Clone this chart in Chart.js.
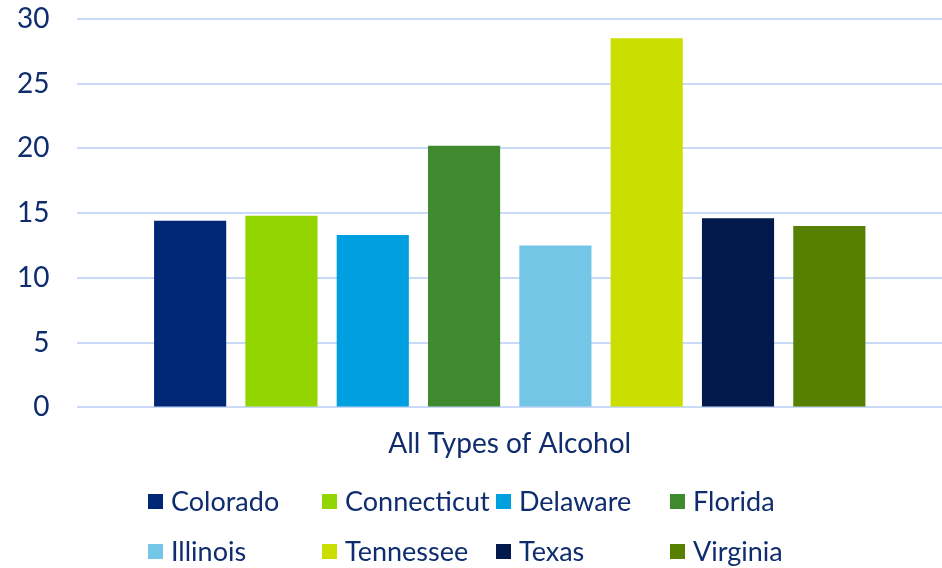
<!DOCTYPE html>
<html>
<head>
<meta charset="utf-8">
<script src="https://cdn.jsdelivr.net/npm/chart.js@4"></script>
<style>
  html, body { margin: 0; padding: 0; background: #fff; }
  #wrap { width: 942px; height: 568px; }
</style>
</head>
<body>
<div id="wrap"><canvas id="alcoholChart" width="942" height="568"></canvas></div>
<script>
const categories = ['All Types of Alcohol'];
const states = ['Colorado', 'Connecticut', 'Delaware', 'Florida', 'Illinois', 'Tennessee', 'Texas', 'Virginia'];
const values = [14.4, 14.8, 13.3, 20.2, 12.5, 28.5, 14.6, 14.0];
const colors = ['#002776', '#93d500', '#009fdf', '#3f8a2f', '#74c6e6', '#cadf00', '#011a4b', '#577f00'];
const yTicks = [0, 5, 10, 15, 20, 25, 30];

const textColor = '#0e2c6e';
const fontFamily = 'Lato, "Open Sans", sans-serif';

// legend drawn as a 4-column grid below the chart
const gridLegend = {
  id: 'gridLegend',
  afterDraw(chart) {
    const ctx = chart.ctx;
    const cols = 4, colW = 174, startX = 148;
    const rowY = [502, 552];
    ctx.save();
    ctx.font = '27px ' + fontFamily;
    ctx.textBaseline = 'middle';
    ctx.textAlign = 'left';
    chart.data.datasets.forEach((ds, i) => {
      const x = startX + (i % cols) * colW;
      const y = rowY[Math.floor(i / cols)];
      ctx.fillStyle = ds.backgroundColor;
      ctx.fillRect(x, y - 8, 15, 15);
      ctx.fillStyle = textColor;
      ctx.fillText(ds.label, x + 23, y);
    });
    ctx.restore();
  }
};

new Chart(document.getElementById('alcoholChart'), {
  type: 'bar',
  data: {
    labels: categories,
    datasets: states.map((s, i) => ({
      label: s,
      data: [values[i]],
      backgroundColor: colors[i],
      borderWidth: 0,
      barPercentage: 0.79,
      categoryPercentage: 0.845
    }))
  },
  options: {
    responsive: false,
    animation: false,
    layout: { padding: { top: 0, right: 0, bottom: 95, left: 15 } },
    plugins: {
      legend: { display: false },
      tooltip: { enabled: false }
    },
    scales: {
      x: {
        grid: { display: false },
        border: { display: false },
        ticks: { color: textColor, font: { family: fontFamily, size: 28 }, padding: 12 }
      },
      y: {
        min: 0,
        max: 30,
        afterBuildTicks: (axis) => { axis.ticks = yTicks.map(v => ({ value: v })); },
        // invisible tick marks keep the gap between labels and grid without padding the top
        grid: { color: '#c9d9f7', lineWidth: 2, drawTicks: true, tickLength: 26, tickColor: 'rgba(0,0,0,0)' },
        border: { display: false },
        ticks: { color: textColor, font: { family: fontFamily, size: 28 }, padding: 2 }
      }
    }
  },
  plugins: [gridLegend]
});
</script>
</body>
</html>
